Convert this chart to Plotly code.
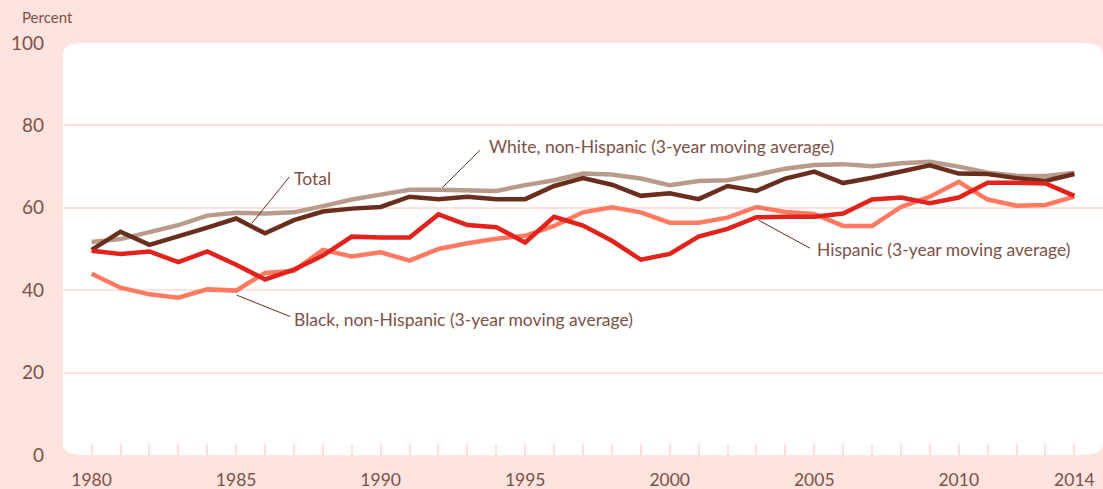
import plotly.graph_objects as go

years = list(range(1980, 2015))
total = [49.8, 54.2, 51.0, 53.0, 55.2, 57.4, 53.8, 57.0, 59.1, 59.8,
         60.2, 62.7, 62.1, 62.7, 62.1, 62.1, 65.3, 67.2, 65.6, 62.9,
         63.5, 62.1, 65.3, 64.1, 67.1, 68.8, 66.0, 67.3, 68.9, 70.3,
         68.3, 68.2, 67.2, 66.5, 68.2]
white = [51.7, 52.4, 54.1, 55.8, 58.1, 58.8, 58.6, 58.9, 60.4, 62.0,
         63.2, 64.4, 64.4, 64.3, 64.1, 65.5, 66.7, 68.3, 68.1, 67.1,
         65.5, 66.5, 66.7, 68.0, 69.5, 70.4, 70.6, 70.1, 70.8, 71.2,
         70.0, 68.5, 67.8, 67.7, 68.5]
hispanic = [49.6, 48.8, 49.4, 46.8, 49.4, 46.2, 42.6, 45.0, 48.4, 53.0,
            52.8, 52.8, 58.4, 55.8, 55.3, 51.6, 57.8, 55.7, 52.0, 47.4,
            48.8, 53.0, 54.9, 57.7, 57.8, 57.8, 58.6, 62.0, 62.5, 61.1,
            62.5, 66.1, 66.1, 65.9, 62.9]
black = [44.0, 40.6, 39.0, 38.2, 40.2, 39.9, 44.2, 44.7, 49.8, 48.2,
         49.2, 47.2, 50.0, 51.4, 52.5, 53.2, 55.6, 58.9, 60.1, 58.9,
         56.4, 56.4, 57.6, 60.2, 59.0, 58.5, 55.6, 55.6, 60.2, 62.7,
         66.3, 62.0, 60.5, 60.7, 62.7]

x_tick_vals = [1980, 1985, 1990, 1995, 2000, 2005, 2010, 2014]
x_tick_text = ["1980", "1985", "1990", "1995", "2000", "2005", "2010", "2014"]
y_tick_vals = [0, 20, 40, 60, 80, 100]

C_TOTAL = "#6A2E1E"
C_WHITE = "#B89B8B"
C_HISP = "#E3231B"
C_BLACK = "#FF7A60"
C_TEXT = "#7E5046"
C_BG = "#FFE3DE"
C_GRID = "#FFE1DB"
FONT = "Lato"

fig = go.Figure()
for name, vals, col in [("White", white, C_WHITE), ("Total", total, C_TOTAL),
                        ("Black", black, C_BLACK), ("Hispanic", hispanic, C_HISP)]:
    fig.add_trace(go.Scatter(x=years, y=vals, mode="lines", name=name,
                             line=dict(color=col, width=4.5), showlegend=False,
                             hoverinfo="x+y+name"))

rx, ry = 22 / 1040, 11 / 412
path = (f"M {rx},0 L {1-rx},0 Q 1,0 1,{ry} L 1,{1-ry} Q 1,1 {1-rx},1 "
        f"L {rx},1 Q 0,1 0,{1-ry} L 0,{ry} Q 0,0 {rx},0 Z")
fig.add_shape(type="path", xref="paper", yref="paper", path=path,
              fillcolor="white", line=dict(width=0), layer="below")

# leader lines
leaders = [
    (1985.54, 56.2, 1986.84, 67.5),
    (1992.15, 65.0, 1993.44, 74.0),
    (2003.07, 57.0, 2004.85, 50.2),
    (1985.02, 38.8, 1986.87, 33.6),
]
for x0, y0, x1, y1 in leaders:
    fig.add_shape(type="line", x0=x0, y0=y0, x1=x1, y1=y1,
                  line=dict(color=C_TOTAL, width=1))

labels = [
    (1986.94, 67.2, "Total"),
    (1993.68, 74.8, "White, non-Hispanic (3-year moving average)"),
    (2005.03, 49.8, "Hispanic (3-year moving average)"),
    (1986.94, 32.8, "Black, non-Hispanic (3-year moving average)"),
]
for x, y, t in labels:
    fig.add_annotation(x=x, y=y, text=t, showarrow=False, xanchor="left",
                       yanchor="middle", font=dict(family=FONT, size=17.5, color=C_TEXT))

fig.add_annotation(xref="paper", yref="paper", x=-0.041, y=1.063, text="Percent",
                   showarrow=False, xanchor="left", yanchor="middle",
                   font=dict(family=FONT, size=15, color=C_TEXT))

fig.update_layout(
    width=1103, height=489,
    margin=dict(l=63, r=0, t=43, b=34),
    paper_bgcolor=C_BG, plot_bgcolor=C_BG,
    font=dict(family=FONT, color=C_TEXT),
    xaxis=dict(range=[1979.01, 2014.99], tickvals=x_tick_vals, ticktext=x_tick_text,
               ticks="inside", ticklen=11, tickwidth=2, tickcolor=C_GRID,
               minor=dict(tick0=1980, dtick=1, ticks="inside", ticklen=11,
                          tickwidth=2, tickcolor=C_GRID),
               showgrid=False, zeroline=False, showline=False,
               ticklabelstandoff=12,
               tickfont=dict(family=FONT, size=17.5, color=C_TEXT)),
    yaxis=dict(range=[0, 100], tickvals=y_tick_vals, showgrid=True,
               gridcolor=C_GRID, gridwidth=2, zeroline=False, showline=False,
               ticks="", ticklabelstandoff=18,
               tickfont=dict(family=FONT, size=19, color=C_TEXT)),
)

post = ("document.body.style.margin='0';document.body.style.padding='0';"
        "document.body.style.overflow='hidden';"
        "document.body.style.background='" + C_BG + "';")
fig.write_html("out.html", post_script=post, config={"displayModeBar": False})
